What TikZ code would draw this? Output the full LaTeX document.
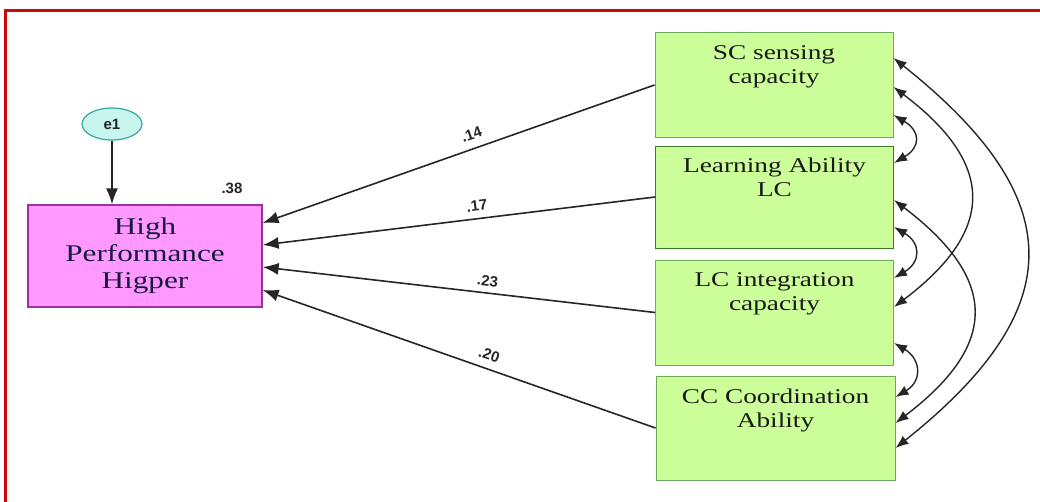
\documentclass[tikz,border=0pt]{standalone}
\usepackage{fontspec}
\setmainfont{Liberation Serif}
\newfontfamily\lsans{Liberation Sans}
\usetikzlibrary{arrows.meta,shapes.geometric}
\definecolor{framered}{HTML}{C80A0A}
\definecolor{gfill}{HTML}{CCFF99}
\definecolor{gdraw}{HTML}{6AAA5A}
\definecolor{gdark}{HTML}{3A7A2A}
\definecolor{pfill}{HTML}{FF99FF}
\definecolor{pdraw}{HTML}{993399}
\definecolor{efill}{HTML}{C8F5EE}
\definecolor{edraw}{HTML}{33A99A}
\definecolor{ptext}{HTML}{1A1A40}
\tikzset{
  gbox/.style={draw=gdraw, line width=1pt, fill=gfill, minimum width=238pt, minimum height=105pt, inner sep=0pt},
  gtext/.style={font=\fontsize{21}{24}\selectfont, align=center, text=black!90, inner sep=0pt},
  pbox/.style={draw=pdraw, line width=1.2pt, fill=pfill, minimum width=234pt, minimum height=102pt, align=center, font=\fontsize{24}{27}\selectfont, text=ptext},
  errnode/.style={ellipse, draw=edraw, line width=1.2pt, fill=efill, minimum width=60pt, minimum height=32pt, inner sep=0pt, font=\lsans\bfseries\fontsize{15}{17}\selectfont, text=black!85},
  path/.style={line width=1.6pt, draw=black!85, -{Latex[length=16pt,width=12pt]}},
  cov/.style={line width=1.4pt, draw=black!85, {Latex[length=13pt,width=10pt]}-{Latex[length=13pt,width=10pt]}},
  coef/.style={font=\lsans\bfseries\fontsize{15}{17}\selectfont, text=black!85, inner sep=1pt},
}
\newcommand{\sx}[1]{\scalebox{1.3}[1]{#1}}
\begin{document}
\begin{tikzpicture}[x=1pt, y=-1pt]
\useasboundingbox (0,0) rectangle (1040,501);
\clip (0,0) rectangle (1040,501);
\draw[framered, line width=3pt] (5,10) rectangle (1080,540);

% green boxes
\node[gbox, draw=gdraw] (b1) at (774,85) {};
\node[gbox, draw=gdark, minimum height=102pt] (b2) at (774.5,197) {};
\node[gbox] (b3) at (774.5,312.5) {};
\node[gbox, minimum width=239pt, minimum height=104pt] (b4) at (775.5,428) {};
\node[gtext, anchor=north] (t1) at ([yshift=-13pt]b1.north) {\sx{SC sensing}\\\sx{capacity}};
\node[gtext, anchor=north] (t2) at ([yshift=-12pt]b2.north) {\sx{Learning Ability}\\\sx{LC}};
\node[gtext, anchor=north] (t3) at ([yshift=-13pt]b3.north) {\sx{LC integration}\\\sx{capacity}};
\node[gtext, anchor=north] (t4) at ([yshift=-13pt]b4.north) {\sx{CC Coordination}\\\sx{Ability}};

% pink box
\node[pbox] (hp) at (145,256) {\sx{High}\\\sx{Performance}\\\sx{Higper}};
\node[coef] (r2) at (232,188) {.38};

% error
\node[errnode] (e1) at (112,124) {e1};
\draw[path] (e1.south) -- (e1.south |- hp.north);

% paths
\draw[path] (b1.west) -- node[coef, pos=0.455, sloped, above=7pt] {.14} ([yshift=33pt]hp.east);
\draw[path] (b2.west) -- node[coef, pos=0.45, sloped, above=6pt] {.17} ([yshift=11pt]hp.east);
\draw[path] (b3.west) -- node[coef, pos=0.43, sloped, above=5pt] {.23} ([yshift=-11pt]hp.east);
\draw[path] (b4.west) -- node[coef, pos=0.435, sloped, above=7pt] {.20} ([yshift=-34pt]hp.east);

% covariances
\draw[cov] ([yshift=-30pt]b1.east) .. controls +(27,16) and +(27,-16) .. ([yshift=34pt]b2.east);
\draw[cov] ([yshift=-30pt]b2.east) .. controls +(27,16) and +(27,-16) .. ([yshift=34.5pt]b3.east);
\draw[cov] ([yshift=-30.5pt]b3.east) .. controls +(27,16) and +(27,-16) .. ([yshift=31pt]b4.east);
\draw[cov] ([yshift=-2pt]b1.east) .. controls +(102,77) and +(102,-77) .. ([yshift=5.5pt]b3.east);
\draw[cov] ([yshift=-3pt]b2.east) .. controls +(104,79) and +(104,-79) .. ([yshift=5pt]b4.east);
\draw[cov] ([yshift=27pt]b1.east) .. controls +(176,140) and +(176,-140) .. ([yshift=-20pt]b4.east);
\end{tikzpicture}
\end{document}
